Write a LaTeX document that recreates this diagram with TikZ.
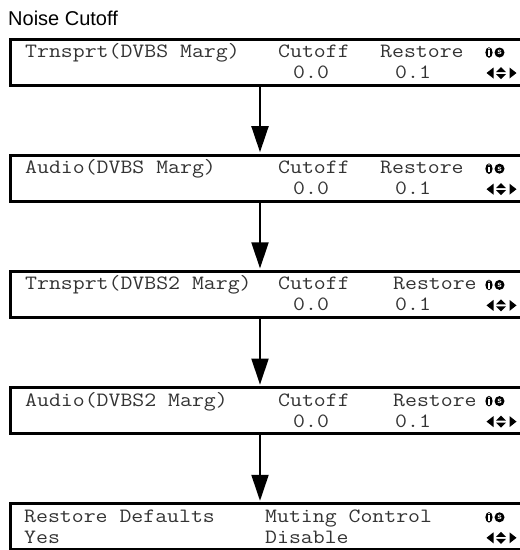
\documentclass[tikz,border=0pt]{standalone}
\usepackage{fontspec}
\setmainfont{Liberation Sans}
\newfontfamily\lcdfont[FakeStretch=1.14]{Latin Modern Mono}
\usetikzlibrary{arrows.meta}
\begin{document}
\begin{tikzpicture}[x=1pt,y=-1pt,
  lcdbox/.style={draw,line width=3pt,rectangle,inner sep=0pt,anchor=north west,minimum width=530pt,minimum height=46pt},
  lcdtxt/.style={anchor=base west,inner sep=0pt,font=\lcdfont\fontsize{20.3}{24}\selectfont,text=black!80},
  titletxt/.style={anchor=base west,inner sep=0pt,font=\fontsize{20}{22}\selectfont},
  flow/.style={line width=2pt,-{Triangle[width=17pt,length=26pt]},shorten >=1.5pt},
  keys/.pic={
    \fill (0,0) ellipse (3.6pt and 5.3pt);
    \fill[white] (-0.8,-2.2) rectangle (0.8,3.6);
    \fill[white] (0,-3.8) circle (0.8pt);
    \fill (10.5,0) circle (5pt);
    \node[inner sep=0pt,text=white,font=\fontsize{8}{8}\selectfont\bfseries] at (10.5,0.3) {s};
  },
  navs/.pic={
    \fill (0,0) -- (7,-5.5) -- (7,5.5) -- cycle;
    \fill (9.5,-1) -- (14.5,-6) -- (19.5,-1) -- cycle;
    \fill (9.5,1) -- (14.5,6) -- (19.5,1) -- cycle;
    \fill (30,0) -- (23,-5.5) -- (23,5.5) -- cycle;
  }
]
\useasboundingbox (0,0) rectangle (520,550);
\clip (0,0) rectangle (520,550);

\node[titletxt] (title) at (8,25) {Noise Cutoff};

% boxes
\node[lcdbox] (b1) at (8.5,37.5) {};
\node[lcdbox] (b2) at (8.5,153.7) {};
\node[lcdbox] (b3) at (8.5,269.9) {};
\node[lcdbox] (b4) at (8.5,386.1) {};
\node[lcdbox] (b5) at (8.5,502.3) {};

% connectors
\draw[flow] ([xshift=251.5pt]b1.south west) -- ([xshift=251.5pt]b2.north west);
\draw[flow] ([xshift=251.5pt]b2.south west) -- ([xshift=251.5pt]b3.north west);
\draw[flow] ([xshift=251.5pt]b3.south west) -- ([xshift=251.5pt]b4.north west);
\draw[flow] ([xshift=251.5pt]b4.south west) -- ([xshift=251.5pt]b5.north west);

% box 1
\node[lcdtxt] (t1a) at (25,57.5) {Trnsprt(DVBS Marg)};
\node[lcdtxt] (t1b) at (278,57.5) {Cutoff};
\node[lcdtxt] (t1c) at (380,57.5) {Restore};
\node[lcdtxt] (t1d) at (293,78.5) {0.0};
\node[lcdtxt] (t1e) at (395,78.5) {0.1};
\pic at (489,52.5) {keys};
\pic at (486.5,73) {navs};

% box 2
\node[lcdtxt] (t2a) at (25,173.7) {Audio(DVBS Marg)};
\node[lcdtxt] (t2b) at (278,173.7) {Cutoff};
\node[lcdtxt] (t2c) at (380,173.7) {Restore};
\node[lcdtxt] (t2d) at (293,194.7) {0.0};
\node[lcdtxt] (t2e) at (395,194.7) {0.1};
\pic at (489,168.7) {keys};
\pic at (486.5,189.2) {navs};

% box 3
\node[lcdtxt] (t3a) at (25,289.9) {Trnsprt(DVBS2 Marg)};
\node[lcdtxt] (t3b) at (278,289.9) {Cutoff};
\node[lcdtxt] (t3c) at (393,289.9) {Restore};
\node[lcdtxt] (t3d) at (293,310.9) {0.0};
\node[lcdtxt] (t3e) at (395,310.9) {0.1};
\pic at (489,284.9) {keys};
\pic at (486.5,305.4) {navs};

% box 4
\node[lcdtxt] (t4a) at (25,406.1) {Audio(DVBS2 Marg)};
\node[lcdtxt] (t4b) at (278,406.1) {Cutoff};
\node[lcdtxt] (t4c) at (393,406.1) {Restore};
\node[lcdtxt] (t4d) at (293,427.1) {0.0};
\node[lcdtxt] (t4e) at (395,427.1) {0.1};
\pic at (489,401.1) {keys};
\pic at (486.5,421.6) {navs};

% box 5
\node[lcdtxt] (t5a) at (24,522.3) {Restore Defaults};
\node[lcdtxt] (t5b) at (265,522.3) {Muting Control};
\node[lcdtxt] (t5c) at (24,543.3) {Yes};
\node[lcdtxt] (t5d) at (265,543.3) {Disable};
\pic at (489,517.3) {keys};
\pic at (486.5,537.8) {navs};
\end{tikzpicture}
\end{document}
